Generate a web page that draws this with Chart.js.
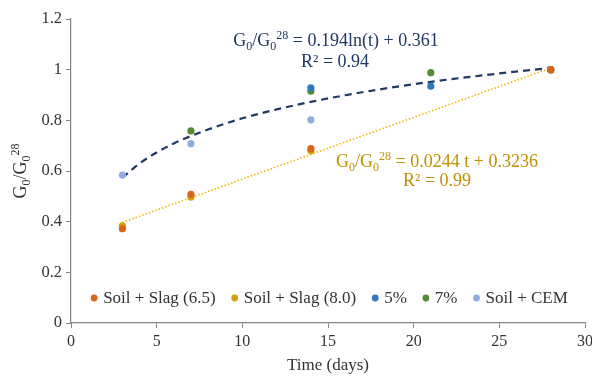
<!DOCTYPE html>
<html>
<head>
<meta charset="utf-8">
<script src="https://cdn.jsdelivr.net/npm/chart.js@4.4.1/dist/chart.umd.min.js"></script>
<style>
  html, body { margin: 0; padding: 0; background: #fff; }
  #wrap { width: 592px; height: 376px; }
</style>
</head>
<body>
<div id="wrap"><canvas id="myChart" width="592" height="376"></canvas></div>
<script>
// values
const slag65 = [{x: 3, y: 0.372}, {x: 7, y: 0.508}, {x: 14, y: 0.688}, {x: 28, y: 1.0}]
const slag80 = [{x: 3, y: 0.383}, {x: 7, y: 0.497}, {x: 14, y: 0.680}, {x: 28, y: 1.0}]
const pct5 = [{x: 14, y: 0.928}, {x: 21, y: 0.935}, {x: 28, y: 1.0}]
const pct7 = [{x: 7, y: 0.758}, {x: 14, y: 0.915}, {x: 21, y: 0.988}, {x: 28, y: 1.0}]
const soilCem = [{x: 3, y: 0.584}, {x: 7, y: 0.708}, {x: 14, y: 0.802}, {x: 28, y: 1.0}]

// trendlines, points
const logTrend = [
  {x: 3, y: 0.574}, {x: 4, y: 0.630}, {x: 5, y: 0.673}, {x: 6, y: 0.709},
  {x: 7, y: 0.738}, {x: 8, y: 0.764}, {x: 10, y: 0.808}, {x: 12, y: 0.843},
  {x: 14, y: 0.873}, {x: 16, y: 0.899}, {x: 18, y: 0.922}, {x: 21, y: 0.952},
  {x: 25, y: 0.985}, {x: 28, y: 1.007}
]
const linTrend = [{x: 3, y: 0.397}, {x: 28, y: 1.007}]

const xTicks = [0, 5, 10, 15, 20, 25, 30]
const yTicks = [0, 0.2, 0.4, 0.6, 0.8, 1, 1.2]

const legendItems = [
  ['Soil + Slag (6.5)', '#D8641E'],
  ['Soil + Slag (8.0)', '#D4A00C'],
  ['5%', '#3079C0'],
  ['7%', '#558B35'],
  ['Soil + CEM', '#8FAEE0']
]

const SERIF = '"Liberation Serif", "DejaVu Serif", serif'
const TEXT = '#333333'

function pts (label, d, color) {
  return {
    label: label, data: d, showLine: false,
    pointRadius: 3.6, pointHoverRadius: 3.6,
    backgroundColor: color, borderColor: color, pointBorderWidth: 0
  }
}

// draws text with subscripts / superscripts, centred on cx
function richText (ctx, runs, cx, y, size, color) {
  const big = size + 'px ' + SERIF
  const small = Math.round(size * 0.68) + 'px ' + SERIF
  let w = 0
  runs.forEach(r => {
    ctx.font = r[1] === 'n' ? big : small
    w += ctx.measureText(r[0]).width
  })
  let x = cx - w / 2
  ctx.fillStyle = color
  ctx.textAlign = 'left'
  ctx.textBaseline = 'alphabetic'
  runs.forEach(r => {
    ctx.font = r[1] === 'n' ? big : small
    let dy = 0
    if (r[1] === 'sub') dy = size * 0.22
    if (r[1] === 'sup') dy = -size * 0.38
    ctx.fillText(r[0], x, y + dy)
    x += ctx.measureText(r[0]).width
  })
}

const G = [['G', 'n'], ['0', 'sub'], ['/G', 'n'], ['0', 'sub'], ['28', 'sup']]

const extras = {
  id: 'extras',
  afterDatasetsDraw (chart) {
    const ctx = chart.ctx
    const a = chart.chartArea
    ctx.save()
    // equations
    richText(ctx, G.concat([[' = 0.194ln(t) + 0.361', 'n']]), 336, 46, 18, '#1F3864')
    richText(ctx, [['R² = 0.94', 'n']], 335, 67, 18, '#1F3864')
    richText(ctx, G.concat([[' = 0.0244 t + 0.3236', 'n']]), 437, 167, 18, '#BF9000')
    richText(ctx, [['R² = 0.99', 'n']], 437, 186, 18, '#BF9000')

    // legend inside the plot
    ctx.font = '17px ' + SERIF
    const gap = 19, mark = 9
    let total = 0
    legendItems.forEach(it => { total += mark + ctx.measureText(it[0]).width })
    total += gap * (legendItems.length - 1)
    let x = (a.left + a.right) / 2 - total / 2 + 3
    const ly = 298
    ctx.textBaseline = 'middle'
    ctx.textAlign = 'left'
    legendItems.forEach(it => {
      ctx.fillStyle = it[1]
      ctx.beginPath()
      ctx.arc(x, ly, 3.4, 0, Math.PI * 2)
      ctx.fill()
      ctx.fillStyle = TEXT
      ctx.fillText(it[0], x + mark, ly + 1)
      x += mark + ctx.measureText(it[0]).width + gap
    })

    // y axis title
    ctx.translate(20, (a.top + a.bottom) / 2)
    ctx.rotate(-Math.PI / 2)
    richText(ctx, G, 0, 6, 18, TEXT)
    ctx.restore()
  }
}

const config = {
  type: 'scatter',
  data: {
    datasets: [
      {
        label: 'log trend', data: logTrend, showLine: true, pointRadius: 0,
        borderColor: '#1F3864', borderWidth: 2.2, borderDash: [7, 5],
        cubicInterpolationMode: 'monotone', fill: false, order: 1
      },
      {
        label: 'linear trend', data: linTrend, showLine: true, pointRadius: 0,
        borderColor: '#F2B600', borderWidth: 1.6, borderDash: [1.5, 2],
        fill: false, order: 1
      },
      pts('Soil + Slag (6.5)', slag65, '#D8641E'),
      pts('Soil + Slag (8.0)', slag80, '#D4A00C'),
      pts('5%', pct5, '#3079C0'),
      pts('7%', pct7, '#558B35'),
      pts('Soil + CEM', soilCem, '#8FAEE0')
    ]
  },
  options: {
    responsive: false,
    animation: false,
    layout: { padding: { top: 19, right: 7, left: 0, bottom: 0 } },
    plugins: {
      legend: { display: false },
      tooltip: { enabled: false }
    },
    scales: {
      x: {
        type: 'linear', min: 0, max: 30,
        afterBuildTicks: s => { s.ticks = xTicks.map(v => ({ value: v })) },
        afterFit: s => { s.height = 53; s.paddingRight = 0; s.paddingLeft = 0 },
        grid: { display: true, drawOnChartArea: false, drawTicks: true, tickLength: 5, tickColor: '#868686' },
        border: { color: '#868686', width: 1.2 },
        ticks: { color: TEXT, font: { family: SERIF, size: 16 }, padding: 4, maxRotation: 0 },
        title: { display: true, text: 'Time (days)', color: TEXT, font: { family: SERIF, size: 17 }, padding: { top: 0, bottom: 0 } }
      },
      y: {
        type: 'linear', min: 0, max: 1.2,
        afterBuildTicks: s => { s.ticks = yTicks.map(v => ({ value: v })) },
        afterFit: s => { s.width = 71; s.paddingTop = 0; s.paddingBottom = 0 },
        grid: { display: true, drawOnChartArea: false, drawTicks: true, tickLength: 5, tickColor: '#868686' },
        border: { color: '#868686', width: 1.2 },
        ticks: { color: TEXT, font: { family: SERIF, size: 16.5 }, padding: 4, callback: v => String(Math.round(v * 10) / 10) }
      }
    }
  },
  plugins: [extras]
}

new Chart(document.getElementById('myChart'), config)
</script>
</body>
</html>
